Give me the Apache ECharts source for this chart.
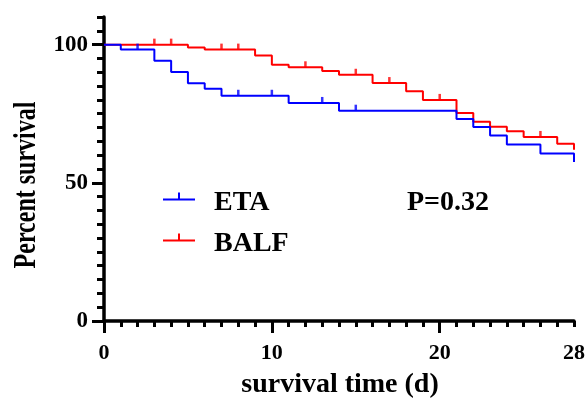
<!DOCTYPE html>
<html>
<head>
<meta charset="utf-8">
<script src="https://cdn.jsdelivr.net/npm/echarts@6/dist/echarts.min.js"></script>
<style>
  html, body { margin: 0; padding: 0; background: #fff; }
  #chart { width: 588px; height: 398px; }
</style>
</head>
<body>
<div id="chart"></div>
<script>
// Kaplan-Meier steps: time (d) and percent survival after each drop
const etaTime = [0, 1, 3, 4, 5, 6, 7, 11, 14, 21, 22, 23, 24, 26, 28];
const etaSurv = [100, 98.2, 94.2, 90.1, 86, 84, 81.5, 78.9, 76.1, 73.1, 70.2, 67.1, 63.9, 60.6, 57.5];
const etaCensorTime = [2, 8, 10, 13, 15];
const etaCensorSurv = [98.2, 81.5, 81.5, 78.9, 76.1];

const balfTime = [0, 5, 6, 9, 10, 11, 13, 14, 16, 18, 19, 21, 22, 23, 24, 25, 27, 28];
const balfSurv = [100, 99, 98.2, 96.1, 92.7, 91.8, 90.5, 89.1, 86.1, 83.1, 80, 75.3, 72.1, 70.3, 68.7, 66.6, 64.1, 62];
const balfCensorTime = [3, 4, 7, 8, 12, 15, 17, 20, 26];
const balfCensorSurv = [100, 100, 98.2, 98.2, 91.8, 89.1, 86.1, 80, 66.6];

const xLabelValues = [0, 10, 20, 28];
const xMajorTicks = [0, 10, 20];
const yLabelValues = [0, 50, 100];

const FONT = '"Liberation Serif", "Times New Roman", serif';
const BLUE = '#0000ff';
const RED = '#ff0000';

const pairs = (xs, ys) => xs.map((x, i) => [x, ys[i]]);

const chart = echarts.init(document.getElementById('chart'));

const option = {
  animation: false,
  grid: { left: 104, right: 12, top: 17, bottom: 77 },
  xAxis: [
    {
      type: 'value', min: 0, max: 28, interval: 1,
      axisLine: { lineStyle: { color: '#000', width: 3.5 } },
      axisTick: { length: 6, lineStyle: { color: '#000', width: 3 } },
      axisLabel: { show: false },
      splitLine: { show: false }
    },
    {
      type: 'value', min: 0, max: 28, position: 'bottom',
      axisLine: { show: false },
      axisTick: { customValues: xMajorTicks, length: 12, lineStyle: { color: '#000', width: 3 } },
      axisLabel: {
        customValues: xLabelValues, margin: 21,
        fontFamily: FONT, fontWeight: 'bold', fontSize: 22, color: '#000'
      },
      splitLine: { show: false }
    }
  ],
  yAxis: [
    {
      type: 'value', min: 0, max: 110, interval: 5,
      axisLine: { show: true, lineStyle: { color: '#000', width: 3.5 } },
      axisTick: { show: true, length: 7, lineStyle: { color: '#000', width: 3 } },
      axisLabel: { show: false },
      splitLine: { show: false }
    },
    {
      type: 'value', min: 0, max: 110, position: 'left', offset: 0,
      axisLine: { show: false },
      axisTick: { show: true, customValues: yLabelValues, length: 12, lineStyle: { color: '#000', width: 3 } },
      axisLabel: {
        customValues: yLabelValues, margin: 16,
        fontFamily: FONT, fontWeight: 'bold', fontSize: 23, color: '#000'
      },
      splitLine: { show: false }
    }
  ],
  legend: {
    data: ['ETA', 'BALF'],
    orient: 'vertical',
    left: 163, top: 189,
    padding: 0,
    itemGap: 13,
    itemWidth: 32, itemHeight: 21,
    // line with a censor tick; the empty segment at y=21 keeps the line above the text centre
    icon: 'path://M0,6h32v2h-32z M15,0h2v6h-2z M0,21L0,21',
    textStyle: {
      fontFamily: FONT, fontWeight: 'bold', fontSize: 28, color: '#000',
      lineHeight: 27, padding: [0, 0, 0, 14]
    }
  },
  graphic: [
    {
      type: 'text', x: 27, y: 185, rotation: Math.PI / 2, scaleX: 1, scaleY: 1.3,
      style: {
        text: 'Percent survival', font: 'bold 24px ' + FONT,
        fill: '#000', align: 'center', verticalAlign: 'middle'
      }
    },
    {
      type: 'text', x: 340, y: 385,
      style: {
        text: 'survival time (d)', font: 'bold 28px ' + FONT,
        fill: '#000', align: 'center', verticalAlign: 'middle'
      }
    },
    {
      type: 'text', x: 407, y: 203,
      style: {
        text: 'P=0.32', font: 'bold 28px ' + FONT,
        fill: '#000', align: 'left', verticalAlign: 'middle'
      }
    }
  ],
  series: [
    {
      name: 'BALF', type: 'line', step: 'end', color: RED,
      data: pairs(balfTime, balfSurv), showSymbol: false, symbol: 'none',
      lineStyle: { width: 2, color: RED }, z: 2
    },
    {
      name: 'BALF censored', type: 'scatter', color: RED,
      data: pairs(balfCensorTime, balfCensorSurv),
      symbol: 'rect', symbolSize: [2.5, 6], symbolOffset: [0, -3], z: 2
    },
    {
      name: 'ETA', type: 'line', step: 'end', color: BLUE,
      data: pairs(etaTime, etaSurv), showSymbol: false, symbol: 'none',
      lineStyle: { width: 2, color: BLUE }, z: 3
    },
    {
      name: 'ETA censored', type: 'scatter', color: BLUE,
      data: pairs(etaCensorTime, etaCensorSurv),
      symbol: 'rect', symbolSize: [2.5, 6], symbolOffset: [0, -3], z: 3
    }
  ]
};

chart.setOption(option);
</script>
</body>
</html>
